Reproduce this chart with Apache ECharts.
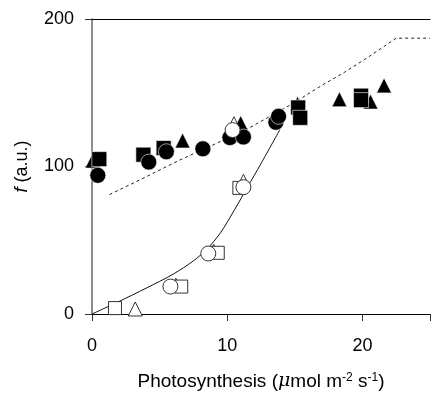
<!DOCTYPE html>
<html>
<head>
<meta charset="utf-8">
<script src="https://cdn.jsdelivr.net/npm/echarts@6/dist/echarts.min.js"></script>
<style>
  html, body { margin: 0; padding: 0; background: #fff; }
  #chart { width: 433px; height: 396px; }
</style>
</head>
<body>
<div id="chart"></div>
<script>
// Filled symbols (x = photosynthesis, y = f)
const filledCircleX = [0.43, 4.2, 5.5, 8.2, 10.2, 11.2, 13.6, 13.8];
const filledCircleY = [94, 103, 110, 112, 119.6, 120, 130, 134];
const filledSquareX = [0.54, 3.8, 5.3, 15.25, 15.4, 19.9, 19.9];
const filledSquareY = [105, 108, 112.5, 140, 133, 148, 145];
const filledTriangleX = [0.05, 6.7, 11.0, 15.2, 18.3, 20.6, 21.6];
const filledTriangleY = [104, 117.6, 129.5, 142.5, 145.6, 144, 155];

// Open symbols
const openCircleX = [5.8, 8.6, 11.2, 10.4];
const openCircleY = [18.6, 41, 86, 124.7];
const openSquareX = [1.7, 6.6, 9.3, 10.9];
const openSquareY = [4, 18.6, 41.5, 85.5];
const openTriangleX = [3.2, 6.2, 9.0, 11.2, 10.5];
const openTriangleY = [3.4, 19.5, 42.5, 90, 129];

// Dashed reference curve
const dashX = [1.3, 4, 6.4, 8.8, 11.4, 14.35, 15.6, 17, 18.7, 20.4, 22.5, 25];
const dashY = [81, 93, 104, 114, 125, 140, 147, 155, 164, 174, 187, 187];

// Solid fitted curve
const fitX = [0, 2, 4, 6, 7.5, 8.5, 9.5, 10.5, 11.5, 12.5, 13.9];
const fitY = [0, 8.5, 17.5, 27, 36, 44, 55, 70, 86, 102, 125];

// Axis ticks
const xTicks = [0, 10, 20];
const yTicks = [0, 100, 200];

const pairs = (xs, ys) => xs.map((x, i) => [x, ys[i]]);

const FONT = 'Liberation Sans, Arial, sans-serif';

const filledStyle = { color: '#000', borderColor: '#fff', borderWidth: 0.6, opacity: 1 };
const openStyle = { color: '#fff', borderColor: '#333', borderWidth: 1, opacity: 1 };

function scatter(name, xs, ys, symbol, size, style) {
  return {
    name, type: 'scatter', data: pairs(xs, ys), symbol, symbolSize: size,
    itemStyle: style, silent: true, animation: false
  };
}

const chart = echarts.init(document.getElementById('chart'), null, { renderer: 'canvas' });

chart.setOption({
  animation: false,
  backgroundColor: '#fff',
  grid: { left: 92, top: 19, right: -5, bottom: 81 },
  xAxis: [{
    type: 'value', min: 0, max: 25, interval: 10,
    splitLine: { show: false },
    axisLine: { lineStyle: { color: '#000', width: 1 } },
    axisTick: { length: 7, lineStyle: { color: '#333' } },
    axisLabel: {
      margin: 23, fontSize: 18, color: '#000', fontFamily: FONT,
      formatter: v => (xTicks.includes(v) ? String(v) : '')
    },
    name: 'Photosynthesis ({mu|μ}mol m{sup|-2} s{sup|-1})',
    nameLocation: 'middle', nameGap: 58,
    nameTextStyle: {
      fontSize: 19, color: '#000', fontFamily: FONT,
      rich: {
        mu: { fontSize: 19, fontFamily: 'DejaVu Serif, serif', fontStyle: 'italic', color: '#000' },
        sup: { fontSize: 12, color: '#000', fontFamily: FONT, verticalAlign: 'top', lineHeight: 12 }
      }
    }
  }, {
    type: 'value', min: 0, max: 25, position: 'top',
    splitLine: { show: false },
    axisLine: { show: true, lineStyle: { color: '#000', width: 1 } },
    axisTick: { show: false }, axisLabel: { show: false }
  }],
  yAxis: {
    type: 'value', min: 0, max: 200, interval: 100,
    splitLine: { show: false },
    axisLine: { show: true, lineStyle: { color: '#666', width: 1.5 } },
    axisTick: { show: true, length: 7, lineStyle: { color: '#333' } },
    axisLabel: {
      margin: 18, fontSize: 18, color: '#000', fontFamily: FONT,
      formatter: v => (yTicks.includes(v) ? String(v) : '')
    },
    name: '{it|f} (a.u.)',
    nameLocation: 'middle', nameGap: 61, nameRotate: 90,
    nameTextStyle: {
      fontSize: 18, color: '#000', fontFamily: FONT,
      rich: { it: { fontSize: 18, fontStyle: 'italic', fontFamily: FONT, color: '#000' } }
    }
  },
  series: [
    {
      type: 'line', data: pairs(dashX, dashY), showSymbol: false, silent: true,
      lineStyle: { color: '#222', width: 1, type: [3, 3] }, z: 1
    },
    {
      type: 'line', data: pairs(fitX, fitY), showSymbol: false, smooth: 0.3, silent: true,
      lineStyle: { color: '#111', width: 1 }, z: 1
    },
    scatter('filledTriangle', filledTriangleX, filledTriangleY, 'triangle', 15, filledStyle),
    scatter('filledSquare', filledSquareX, filledSquareY, 'rect', 15, filledStyle),
    scatter('filledCircle', filledCircleX, filledCircleY, 'circle', 16, filledStyle),
    scatter('openTriangle', openTriangleX, openTriangleY, 'triangle', 14, openStyle),
    scatter('openSquare', openSquareX, openSquareY, 'rect', 13, openStyle),
    scatter('openCircle', openCircleX, openCircleY, 'circle', 15, openStyle)
  ]
});
</script>
</body>
</html>
